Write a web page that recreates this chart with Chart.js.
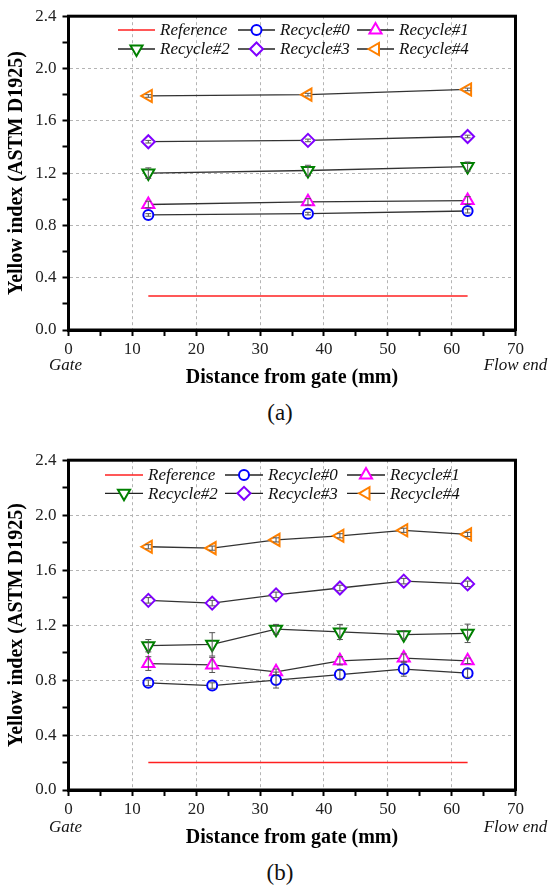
<!DOCTYPE html>
<html lang="en">
<head>
    <meta charset="UTF-8">
    <title>Yellow index vs distance from gate</title>
    <script src="https://cdn.jsdelivr.net/npm/chart.js"></script>
    <style>
        body { margin: 0; background: #fff; width: 552px; height: 891px; position: relative; overflow: hidden; }
        .box { position: absolute; left: 0; width: 552px; }
        .cap { position: absolute; width: 80px; left: 240px; text-align: center;
               font-family: 'Liberation Serif', 'Times New Roman', serif; font-size: 23px; line-height: 28px; color: #111; }
    </style>
</head>
<body>
    <div class="box" style="top:0;height:392px"><canvas id="chartA" width="552" height="392"></canvas></div>
    <div class="cap" style="top:399px">(a)</div>
    <div class="box" style="top:444px;height:408px"><canvas id="chartB" width="552" height="408"></canvas></div>
    <div class="cap" style="top:859px">(b)</div>
    <script>
        // --- data ---
        const seriesNames = ['Reference', 'Recycle#0', 'Recycle#1', 'Recycle#2', 'Recycle#3', 'Recycle#4'];
        const edgeLabels = ['Gate', 'Flow end'];
        const refSpan = [12.5, 62.5];

        // (a)
        const posA = [12.5, 37.5, 62.5];
        const refA = [0.26, 0.26];
        const rec0A = [0.88, 0.89, 0.91];
        const rec1A = [0.96, 0.98, 0.99];
        const rec2A = [1.20, 1.22, 1.25];
        const rec3A = [1.44, 1.45, 1.48];
        const rec4A = [1.79, 1.80, 1.84];
        const err0A = [0.01, 0.01, 0.015];
        const err1A = [0.025, 0.025, 0.03];
        const err2A = [0.04, 0.04, 0.035];
        const err3A = [0.01, 0.01, 0.01];
        const err4A = [0.01, 0.01, 0.01];

        // (b)
        const posB = [12.5, 22.5, 32.5, 42.5, 52.5, 62.5];
        const refB = [0.20, 0.20];
        const rec0B = [0.78, 0.76, 0.80, 0.84, 0.88, 0.85];
        const rec1B = [0.92, 0.91, 0.86, 0.94, 0.96, 0.94];
        const rec2B = [1.05, 1.06, 1.17, 1.15, 1.13, 1.14];
        const rec3B = [1.38, 1.36, 1.42, 1.47, 1.52, 1.50];
        const rec4B = [1.77, 1.76, 1.82, 1.85, 1.89, 1.86];
        const err0B = [0.02, 0.02, 0.058, 0.03, 0.052, 0.03];
        const err1B = [0.05, 0.055, 0.02, 0.03, 0.03, 0.02];
        const err2B = [0.045, 0.085, 0.035, 0.055, 0.03, 0.067];
        const err3B = [0.02, 0.02, 0.02, 0.02, 0.02, 0.02];
        const err4B = [0.015, 0.015, 0.015, 0.015, 0.015, 0.015];

        // --- styles ---
        const serif = "'Liberation Serif', 'Times New Roman', serif";
        const markers = [
            { color: '#0000ff', style: 'circle', radius: 5, rotation: 0 },
            { color: '#ff00ff', style: 'triangle', radius: 7, rotation: 0 },
            { color: '#008000', style: 'triangle', radius: 7, rotation: 180 },
            { color: '#8000ff', style: 'rectRot', radius: 6.5, rotation: 0 },
            { color: '#ff8000', style: 'triangle', radius: 7, rotation: -90 }
        ];

        function drawMarker(ctx, m, x, y) {
            ctx.save();
            ctx.fillStyle = '#fff';
            ctx.strokeStyle = m.color;
            ctx.lineWidth = 2;
            Chart.helpers.drawPoint(ctx, { pointStyle: m.style, radius: m.radius, rotation: m.rotation, borderWidth: 2 }, x, y);
            ctx.restore();
        }

        // vertical error bars, drawn through the scales
        const errorBars = {
            id: 'errorBars',
            afterDatasetsDraw(chart) {
                const ctx = chart.ctx, xs = chart.scales.x, ys = chart.scales.y;
                ctx.save();
                ctx.strokeStyle = '#555';
                ctx.lineWidth = 1;
                chart.data.datasets.forEach(ds => {
                    if (!ds.errors) return;
                    ds.data.forEach((p, i) => {
                        const e = ds.errors[i];
                        const x = xs.getPixelForValue(p.x);
                        const y1 = ys.getPixelForValue(p.y + e);
                        const y2 = ys.getPixelForValue(p.y - e);
                        ctx.beginPath();
                        ctx.moveTo(x, y1); ctx.lineTo(x, y2);
                        ctx.moveTo(x - 3, y1); ctx.lineTo(x + 3, y1);
                        ctx.moveTo(x - 3, y2); ctx.lineTo(x + 3, y2);
                        ctx.stroke();
                    });
                });
                ctx.restore();
            }
        };

        // closed frame, in-plot legend, Gate / Flow end labels
        const decor = {
            id: 'decor',
            afterDraw(chart, args, opts) {
                const ctx = chart.ctx, a = chart.chartArea, xs = chart.scales.x;
                ctx.save();
                ctx.strokeStyle = '#000';
                ctx.lineWidth = 3;
                ctx.strokeRect(a.left, a.top, a.right - a.left, a.bottom - a.top);

                ctx.font = 'italic 17px ' + serif;
                ctx.fillStyle = '#111';
                ctx.textAlign = 'center';
                ctx.textBaseline = 'middle';
                ctx.fillText(edgeLabels[0], xs.getPixelForValue(0) - 3, a.bottom + opts.edgeDy);
                ctx.fillText(edgeLabels[1], xs.getPixelForValue(70), a.bottom + opts.edgeDy);

                ctx.textAlign = 'left';
                seriesNames.forEach((name, i) => {
                    const col = i % 3, row = Math.floor(i / 3);
                    const sx = opts.cols[col], sy = opts.rows[row];
                    ctx.strokeStyle = i === 0 ? '#ff2020' : '#222';
                    ctx.lineWidth = i === 0 ? 1.5 : 1.3;
                    ctx.beginPath();
                    ctx.moveTo(sx, sy); ctx.lineTo(sx + opts.symLen, sy);
                    ctx.stroke();
                    if (i > 0) drawMarker(ctx, markers[i - 1], sx + opts.symLen / 2, sy);
                    ctx.fillStyle = '#111';
                    ctx.fillText(name, sx + opts.textGap, sy + 1);
                });
                ctx.restore();
            }
        };

        function makeChart(id, pos, ref, series, errs, legendOpts, topPad) {
            const datasets = [{
                label: seriesNames[0],
                data: refSpan.map((x, i) => ({ x: x, y: ref[i] })),
                borderColor: '#ff2020',
                borderWidth: 1.5,
                pointRadius: 0
            }];
            series.forEach((vals, k) => {
                const m = markers[k];
                datasets.push({
                    label: seriesNames[k + 1],
                    data: pos.map((x, i) => ({ x: x, y: vals[i] })),
                    errors: errs[k],
                    borderColor: '#333',
                    borderWidth: 1.3,
                    pointStyle: m.style,
                    pointRotation: m.rotation,
                    pointRadius: m.radius,
                    pointBorderColor: m.color,
                    pointBackgroundColor: '#fff',
                    pointBorderWidth: 2
                });
            });

            const gridColor = (last) => c => (c.index % 2 === 0 && c.index > 0 && c.index < last) ? '#b4b4b4' : 'rgba(0,0,0,0)';

            return new Chart(document.getElementById(id), {
                type: 'line',
                data: { datasets: datasets },
                options: {
                    responsive: false,
                    animation: false,
                    layout: { padding: { top: topPad, right: 36.5, left: 0, bottom: 0 } },
                    plugins: {
                        legend: { display: false },
                        tooltip: { enabled: false },
                        decor: legendOpts
                    },
                    scales: {
                        x: {
                            type: 'linear',
                            min: 0, max: 70,
                            afterFit: s => { s.height = 62; },
                            ticks: {
                                stepSize: 5, autoSkip: false, maxRotation: 0, padding: 3,
                                color: '#222', font: { family: serif, size: 17 },
                                callback: (v, i) => i % 2 ? '' : String(v)
                            },
                            grid: { color: gridColor(14), tickColor: '#000', tickLength: 6, tickWidth: 2, lineWidth: 1 },
                            border: { color: '#000', width: 3, dash: [3, 3] },
                            title: {
                                display: true, text: 'Distance from gate (mm)', color: '#000',
                                font: { family: serif, size: 20, weight: 'bold', lineHeight: 1.2 },
                                padding: { top: 0, bottom: 1.7 }
                            }
                        },
                        y: {
                            min: 0, max: 2.4,
                            afterFit: s => { s.width = 68.5; },
                            ticks: {
                                stepSize: 0.2, padding: 6,
                                color: '#222', font: { family: serif, size: 17 },
                                callback: (v, i) => i % 2 ? '' : v.toFixed(1)
                            },
                            grid: { color: gridColor(12), tickColor: '#000', tickLength: 6, tickWidth: 2, lineWidth: 1 },
                            border: { color: '#000', width: 3, dash: [3, 3] },
                            title: {
                                display: true, text: 'Yellow index (ASTM D1925)', color: '#000',
                                font: { family: serif, size: 20, weight: 'bold', lineHeight: 1.2 },
                                padding: { top: 5, bottom: 0 }
                            }
                        }
                    }
                },
                plugins: [errorBars, decor]
            });
        }

        makeChart('chartA', posA, refA,
            [rec0A, rec1A, rec2A, rec3A, rec4A],
            [err0A, err1A, err2A, err3A, err4A],
            { cols: [118, 238, 357], rows: [30, 49], symLen: 37, textGap: 42, edgeDy: 36 }, 12);

        makeChart('chartB', posB, refB,
            [rec0B, rec1B, rec2B, rec3B, rec4B],
            [err0B, err1B, err2B, err3B, err4B],
            { cols: [105, 225, 347], rows: [31, 49.3], symLen: 38, textGap: 43, edgeDy: 38 }, 12.7);
    </script>
</body>
</html>
